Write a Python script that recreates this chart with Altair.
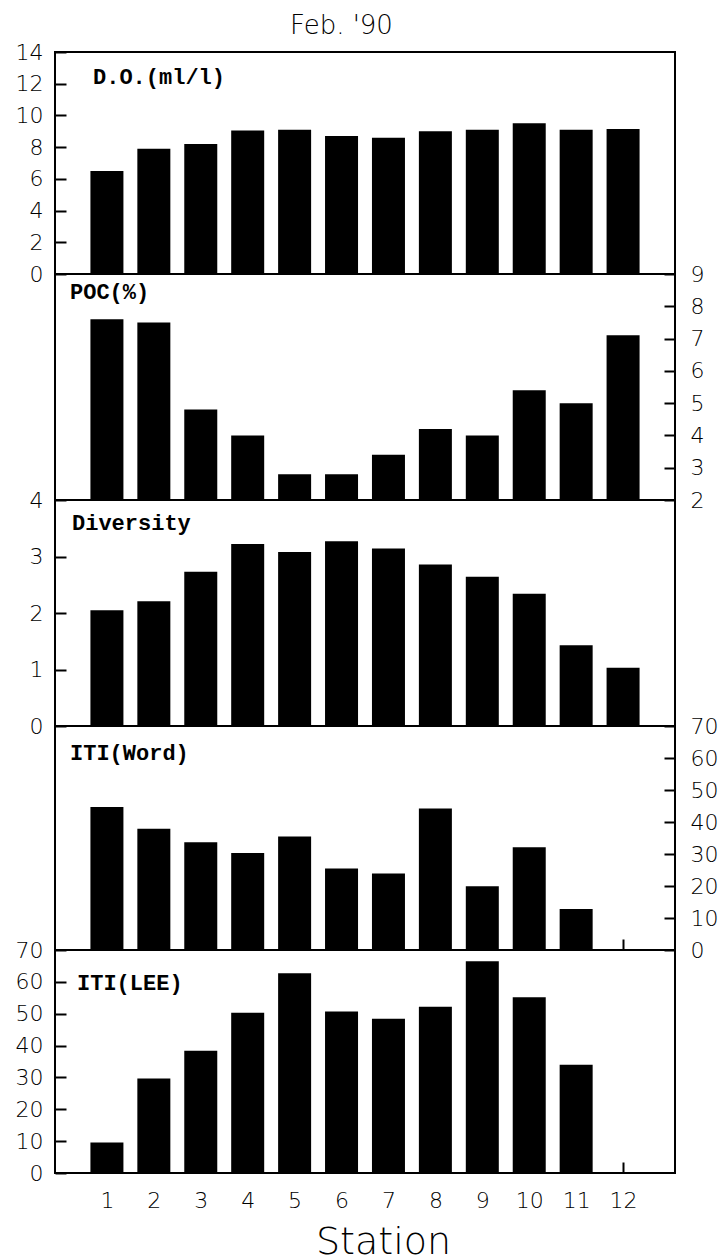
import altair as alt
import pandas as pd

# ---- data ----
stations = [1, 2, 3, 4, 5, 6, 7, 8, 9, 10, 11, 12]
do_vals = [6.5, 7.9, 8.2, 9.05, 9.1, 8.7, 8.6, 9.0, 9.1, 9.5, 9.1, 9.15]
poc_vals = [7.6, 7.5, 4.8, 4.0, 2.8, 2.8, 3.4, 4.2, 4.0, 5.4, 5.0, 7.1]
div_vals = [2.05, 2.21, 2.73, 3.22, 3.08, 3.27, 3.14, 2.86, 2.64, 2.34, 1.43, 1.03]
itiw_vals = [44.7, 37.9, 33.7, 30.3, 35.5, 25.5, 23.9, 44.2, 19.9, 32.1, 12.8, None]
itil_vals = [9.6, 29.7, 38.4, 50.3, 62.7, 50.7, 48.4, 52.2, 66.5, 55.2, 34.0, None]

do_ticks = [0, 2, 4, 6, 8, 10, 12, 14]
poc_ticks = [2, 3, 4, 5, 6, 7, 8, 9]
div_ticks = [0, 1, 2, 3, 4]
iti_ticks = [0, 10, 20, 30, 40, 50, 60, 70]

SANS = "DejaVu Sans"
MONO = "Liberation Mono"
W = 620


def panel(vals, label, domain, ticks, side, height, lx, ly, last=False):
    df = pd.DataFrame({"station": stations, "value": vals}).dropna()
    xaxis_kw = dict(
        orient="bottom", values=stations, offset=-11, tickSize=11, tickWidth=2,
        tickColor="black", domain=False, grid=False, labels=last,
        labelFont=SANS, labelFontSize=22, labelFontWeight=200, labelColor="black",
        labelPadding=17, labelFlush=False, labelOverlap=False,
    )
    if last:
        xaxis_kw.update(
            title="Station", titleFont=SANS, titleFontSize=38, titleFontWeight=200,
            titleColor="black", titleX=328, titleY=91, titleAlign="center",
            titleBaseline="alphabetic",
        )
        xtitle = "Station"
    else:
        xtitle = None
    yaxis = alt.Axis(
        orient=side, values=ticks, offset=-11, tickSize=11, tickWidth=2,
        tickColor="black", domain=False, grid=False,
        labelFont=SANS, labelFontSize=22, labelFontWeight=200, labelColor="black",
        labelPadding=12 if side == "left" else 15, labelFlush=False,
        labelOverlap=False, title=None,
    )
    bars = alt.Chart(df).mark_bar(size=33, color="black").encode(
        x=alt.X("station:Q", scale=alt.Scale(domain=[0, 13], nice=False, zero=False),
                axis=alt.Axis(**xaxis_kw), title=xtitle),
        y=alt.Y("value:Q", scale=alt.Scale(domain=domain, nice=False, zero=False),
                axis=yaxis),
        y2=alt.datum(domain[0]),
    )
    txt = alt.Chart(pd.DataFrame({"t": [label]})).mark_text(
        align="left", baseline="middle", font=MONO, fontSize=22,
        fontWeight="bold", color="black",
    ).encode(x=alt.value(lx), y=alt.value(ly), text="t:N")
    return alt.layer(bars, txt).properties(width=W, height=height)


p1 = panel(do_vals, "D.O.(ml/l)", [0, 14], do_ticks, "left", 222, 38, 25)
p2 = panel(poc_vals, "POC(%)", [2, 9], poc_ticks, "right", 226, 15, 18)
p3 = panel(div_vals, "Diversity", [0, 4], div_ticks, "left", 226, 17, 23)
p4 = panel(itiw_vals, "ITI(Word)", [0, 70], iti_ticks, "right", 224, 15, 27)
p5 = panel(itil_vals, "ITI(LEE)", [0, 70], iti_ticks, "left", 223, 22, 33, last=True)

chart = alt.vconcat(p1, p2, p3, p4, p5, spacing=0, bounds="flush").properties(
    title=alt.Title("Feb. '90", font=SANS, fontSize=26, fontWeight=200,
                    color="black", anchor="middle", offset=4, dx=-25, dy=3),
    padding={"left": 14, "top": 13, "right": 0, "bottom": 0},
).configure_view(stroke="black", strokeWidth=2)

chart.save("out.html", embed_options={"renderer": "svg", "actions": False})
